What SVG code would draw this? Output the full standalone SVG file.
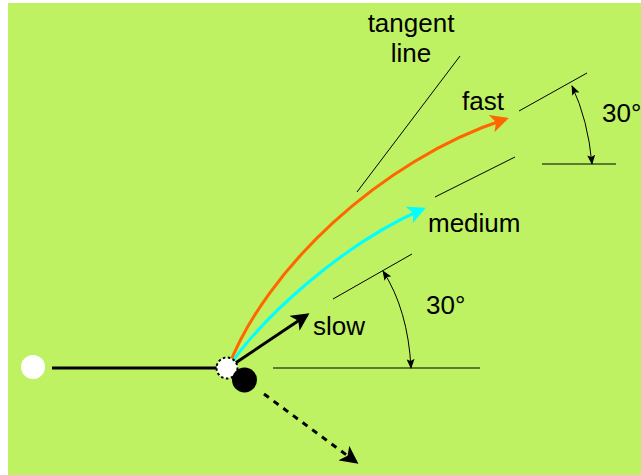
<svg xmlns="http://www.w3.org/2000/svg" width="641" height="475" viewBox="0 0 641 475">
<style>
text{font-family:"Liberation Sans",Arial,sans-serif;font-size:26px;fill:#000}
.thin{stroke:#000;stroke-width:1;fill:none}
</style>
<defs>
<marker id="ahBlack" markerWidth="6" markerHeight="6" refX="5" refY="3" orient="auto" markerUnits="strokeWidth"><path d="M0,0 L6,3 L0,6 L1.5,3 Z" fill="#000"/></marker>
<marker id="ahOrange" markerWidth="6" markerHeight="6" refX="5" refY="3" orient="auto" markerUnits="strokeWidth"><path d="M0,0 L6,3 L0,6 L1.5,3 Z" fill="#FF6600"/></marker>
<marker id="ahCyan" markerWidth="6" markerHeight="6" refX="5" refY="3" orient="auto" markerUnits="strokeWidth"><path d="M0,0 L6,3 L0,6 L1.5,3 Z" fill="#00FFFF"/></marker>
<marker id="ahSmall" markerWidth="10" markerHeight="8" refX="9" refY="4" orient="auto-start-reverse" markerUnits="userSpaceOnUse"><path d="M0,0 L10,4 L0,8 L2,4 Z" fill="#000"/></marker>
</defs>
<rect x="8" y="3" width="633" height="472" fill="#BEF262"/>
<g id="guides">
<line class="thin" x1="357" y1="192" x2="460" y2="56"/>
<line class="thin" x1="519" y1="111" x2="587" y2="73"/>
<line class="thin" x1="435" y1="197" x2="515" y2="157"/>
<line class="thin" x1="542" y1="164" x2="616" y2="164"/>
<line class="thin" x1="333" y1="299" x2="412" y2="254"/>
<line class="thin" x1="273" y1="368" x2="480" y2="368"/>
</g>
<g id="connectors">
<line x1="52" y1="368" x2="222" y2="368" stroke="#000" stroke-width="3"/>
<path d="M228,368 C265,270 380,160 506,119" fill="none" stroke="#FF6600" stroke-width="3" marker-end="url(#ahOrange)"/>
<path d="M228,368 C260,320 340,245 423,209" fill="none" stroke="#00FFFF" stroke-width="3" marker-end="url(#ahCyan)"/>
<line x1="228" y1="368" x2="307" y2="315" stroke="#000" stroke-width="3" marker-end="url(#ahBlack)"/>
<line x1="264" y1="394" x2="356" y2="462" stroke="#000" stroke-width="3" stroke-dasharray="6,6" marker-end="url(#ahBlack)"/>
<path class="thin" d="M383,271 Q408,310 411,368" marker-start="url(#ahSmall)" marker-end="url(#ahSmall)"/>
<path class="thin" d="M572,86 Q588,120 592,164" marker-start="url(#ahSmall)" marker-end="url(#ahSmall)"/>
</g>
<g id="ball-start"><circle cx="33" cy="367" r="12" fill="#fff"/></g>
<g id="ball-ghost"><circle cx="227" cy="368" r="10.5" fill="#fff" stroke="#000" stroke-width="2" stroke-dasharray="2.5,2.5"/></g>
<g id="ball-target"><circle cx="244.5" cy="380" r="12.5" fill="#000"/></g>
<g id="labels">
<text x="411" y="32" text-anchor="middle">tangent</text>
<text x="411" y="62" text-anchor="middle">line</text>
<text x="462" y="110">fast</text>
<text x="428" y="232">medium</text>
<text x="313" y="335">slow</text>
<text x="602" y="122">30°</text>
<text x="426" y="314">30°</text>
</g>
</svg>
